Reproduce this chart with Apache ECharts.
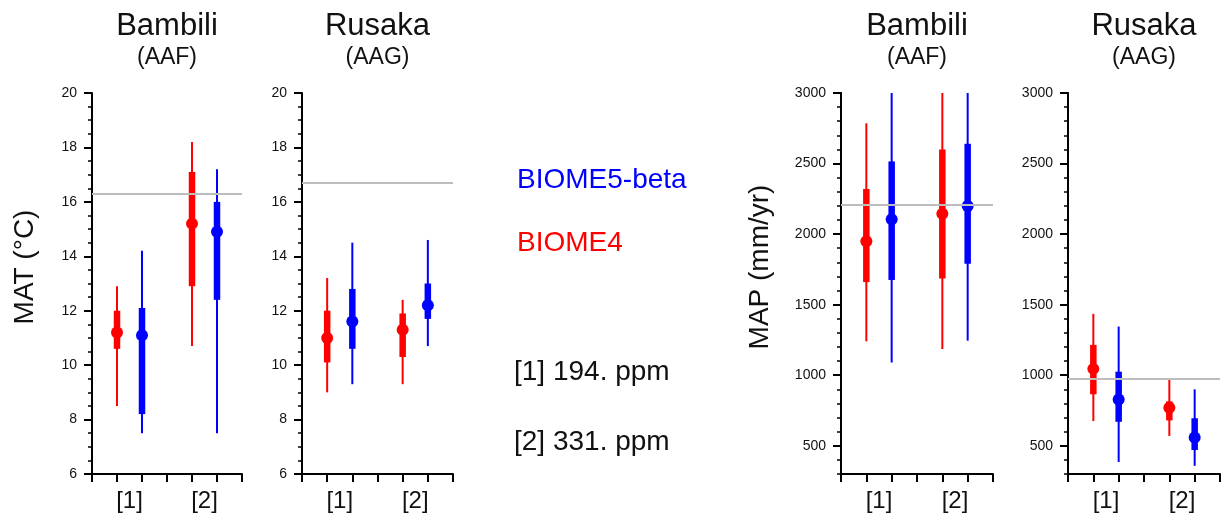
<!DOCTYPE html>
<html><head><meta charset="utf-8">
<script src="https://cdn.jsdelivr.net/npm/echarts@6/dist/echarts.min.js"></script>
<style>html,body{margin:0;padding:0;background:#fff}#chart{width:1221px;height:519px}</style>
</head><body><div id="chart"></div>
<script>
// ---- data ----
const categories = ['[1]', '[2]'];
const co2Notes = ['[1] 194. ppm', '[2] 331. ppm'];
const models = ['BIOME4', 'BIOME5-beta'];
const sites = ['Bambili', 'Rusaka'];
const siteCodes = ['(AAF)', '(AAG)'];
// each entry: [min, q1, median, q3, max] for category [1], [2]
const matBambiliBiome4 = [[8.5, 10.6, 11.2, 12.0, 12.9], [10.7, 12.9, 15.2, 17.1, 18.2]];
const matBambiliBiome5 = [[7.5, 8.2, 11.1, 12.1, 14.2], [7.5, 12.4, 14.9, 16.0, 17.2]];
const matRusakaBiome4 = [[9.0, 10.1, 11.0, 12.0, 13.2], [9.3, 10.3, 11.3, 11.9, 12.4]];
const matRusakaBiome5 = [[9.3, 10.6, 11.6, 12.8, 14.5], [10.7, 11.7, 12.2, 13.0, 14.6]];
const mapBambiliBiome4 = [[1240, 1660, 1950, 2320, 2785], [1185, 1685, 2145, 2600, 3000]];
const mapBambiliBiome5 = [[1090, 1675, 2105, 2515, 3000], [1245, 1790, 2200, 2640, 3000]];
const mapRusakaBiome4 = [[675, 865, 1045, 1215, 1435], [570, 680, 770, 815, 975]];
const mapRusakaBiome5 = [[385, 670, 828, 1025, 1345], [358, 470, 558, 695, 900]];
const matObserved = [16.3, 16.7];
const mapObserved = [2210, 975];
const mapLabelValues = [500, 1000, 1500, 2000, 2500, 3000];

// ---- layout / style ----
const FONT = 'Liberation Sans, Arial, Helvetica, sans-serif';
const TXT = '#111';
const modelColors = ['#ff0000', '#0000ff'];
const grids = [
  {left: 92, top: 93, width: 150, height: 381},
  {left: 302, top: 93, width: 151, height: 381},
  {left: 841, top: 93, width: 152, height: 381},
  {left: 1068, top: 93, width: 152, height: 381}
];
const panels = [
  {site: 0, kind: 'MAT', sets: [matBambiliBiome4, matBambiliBiome5], obs: matObserved[0]},
  {site: 1, kind: 'MAT', sets: [matRusakaBiome4, matRusakaBiome5], obs: matObserved[1]},
  {site: 0, kind: 'MAP', sets: [mapBambiliBiome4, mapBambiliBiome5], obs: mapObserved[0]},
  {site: 1, kind: 'MAP', sets: [mapRusakaBiome4, mapRusakaBiome5], obs: mapObserved[1]}
];

const axisLineStyle = {color: '#000', width: 2};
const xAxes = [], yAxes = [], series = [], graphics = [];

panels.forEach((p, gi) => {
  const labelPos = categories.map((c, i) => 1.5 + 3 * i);
  xAxes.push({
    gridIndex: gi, type: 'value', min: 0, max: 6, interval: 1,
    axisLine: {show: true, onZero: false, lineStyle: axisLineStyle},
    axisTick: {show: true, inside: false, length: 8, lineStyle: axisLineStyle},
    axisLabel: {
      show: true, customValues: labelPos, margin: 15,
      fontFamily: FONT, fontSize: 24, color: TXT,
      formatter: v => categories[Math.round((v - 1.5) / 3)]
    },
    splitLine: {show: false}
  });
  let yIndex;
  if (p.kind === 'MAT') {
    yIndex = yAxes.length;
    yAxes.push({
      gridIndex: gi, type: 'value', min: 6, max: 20, interval: 2, position: 'left',
      axisLine: {show: true, onZero: false, lineStyle: axisLineStyle},
      axisTick: {show: true, inside: false, length: 8, lineStyle: axisLineStyle},
      minorTick: {show: true, splitNumber: 4, length: 4, lineStyle: {color: '#000', width: 1.5}},
      axisLabel: {fontFamily: FONT, fontSize: 14, color: TXT, margin: 15, formatter: v => String(v)},
      splitLine: {show: false}, minorSplitLine: {show: false}
    });
  } else {
    yAxes.push({
      gridIndex: gi, type: 'value', min: 300, max: 3000, interval: 100, position: 'left',
      axisLine: {show: true, onZero: false, lineStyle: axisLineStyle},
      axisTick: {show: true, inside: false, length: 4, lineStyle: {color: '#000', width: 1.5}},
      axisLabel: {show: false}, splitLine: {show: false}
    });
    yIndex = yAxes.length;
    yAxes.push({
      gridIndex: gi, type: 'value', min: 300, max: 3000, interval: 100, position: 'left',
      axisLine: {show: true, onZero: false, lineStyle: axisLineStyle},
      axisTick: {show: true, inside: false, length: 8, customValues: mapLabelValues, lineStyle: axisLineStyle},
      axisLabel: {customValues: mapLabelValues, fontFamily: FONT, fontSize: 14, color: TXT, margin: 15, formatter: v => String(v)},
      splitLine: {show: false}
    });
  }
  // observed reference line
  series.push({
    type: 'line', xAxisIndex: gi, yAxisIndex: yIndex, data: [], z: 1, silent: true,
    markLine: {
      silent: true, symbol: 'none', animation: false,
      label: {show: false},
      lineStyle: {color: '#bdbdbd', width: 2, type: 'solid'},
      data: [{yAxis: p.obs}]
    }
  });
  // model ranges
  p.sets.forEach((set, mi) => {
    const color = modelColors[mi];
    series.push({
      type: 'custom', name: models[mi], xAxisIndex: gi, yAxisIndex: yIndex, z: 3,
      clip: true, animation: false,
      data: set.map((v, ci) => [1 + 3 * ci + mi].concat(v)),
      encode: {x: 0, y: [1, 2, 3, 4, 5]},
      renderItem: (params, api) => {
        const x = api.value(0);
        const lo = api.coord([x, api.value(1)]);
        const q1 = api.coord([x, api.value(2)]);
        const md = api.coord([x, api.value(3)]);
        const q3 = api.coord([x, api.value(4)]);
        const hi = api.coord([x, api.value(5)]);
        return {type: 'group', children: [
          {type: 'line', shape: {x1: lo[0], y1: lo[1], x2: hi[0], y2: hi[1]}, style: {stroke: color, lineWidth: 2}},
          {type: 'line', shape: {x1: q1[0], y1: q1[1], x2: q3[0], y2: q3[1]}, style: {stroke: color, lineWidth: 6.5}},
          {type: 'circle', shape: {cx: md[0], cy: md[1], r: 6}, style: {fill: color}}
        ]};
      }
    });
  });
  // panel titles
  const g = grids[gi];
  const cx = g.left + g.width / 2;
  graphics.push({type: 'text', x: cx, y: 26, style: {text: sites[p.site], font: '31px ' + FONT, fill: TXT, textAlign: 'center', textVerticalAlign: 'middle'}});
  graphics.push({type: 'text', x: cx, y: 58, style: {text: siteCodes[p.site], font: '23px ' + FONT, fill: TXT, textAlign: 'center', textVerticalAlign: 'middle'}});
});

// y-axis titles
graphics.push({type: 'text', x: 25, y: 267, rotation: Math.PI / 2, style: {text: 'MAT (°C)', font: '28px ' + FONT, fill: TXT, textAlign: 'center', textVerticalAlign: 'middle'}});
graphics.push({type: 'text', x: 760, y: 267, rotation: Math.PI / 2, style: {text: 'MAP (mm/yr)', font: '28px ' + FONT, fill: TXT, textAlign: 'center', textVerticalAlign: 'middle'}});
// legend texts
graphics.push({type: 'text', x: 517, y: 180, style: {text: models[1], font: '28px ' + FONT, fill: modelColors[1], textAlign: 'left', textVerticalAlign: 'middle'}});
graphics.push({type: 'text', x: 517, y: 243, style: {text: models[0], font: '28px ' + FONT, fill: modelColors[0], textAlign: 'left', textVerticalAlign: 'middle'}});
graphics.push({type: 'text', x: 514, y: 372, style: {text: co2Notes[0], font: '28px ' + FONT, fill: TXT, textAlign: 'left', textVerticalAlign: 'middle'}});
graphics.push({type: 'text', x: 514, y: 442, style: {text: co2Notes[1], font: '28px ' + FONT, fill: TXT, textAlign: 'left', textVerticalAlign: 'middle'}});

const chart = echarts.init(document.getElementById('chart'), null, {renderer: 'canvas'});
chart.setOption({
  animation: false,
  backgroundColor: '#fff',
  grid: grids.map(g => Object.assign({containLabel: false}, g)),
  xAxis: xAxes,
  yAxis: yAxes,
  series: series,
  graphic: graphics
});
</script></body></html>
